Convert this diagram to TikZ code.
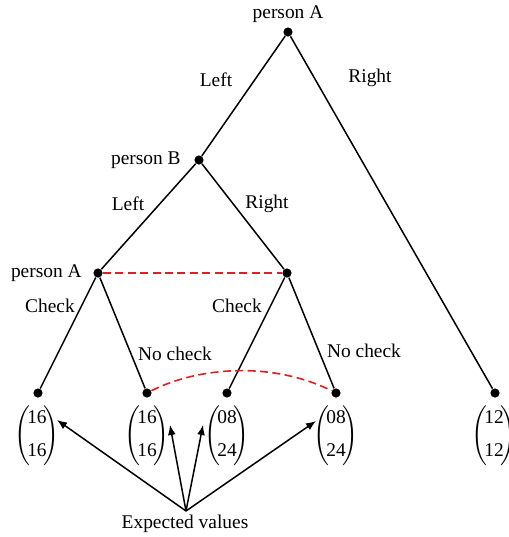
\documentclass[tikz,border=0pt]{standalone}
\usepackage{amsmath}
\usepackage{fontspec}
\setmainfont{Liberation Serif}
\usetikzlibrary{arrows.meta, positioning, calc}
\definecolor{infoset}{HTML}{E02020}
\newcommand{\payoff}[2]{$\Bigg(\!\begin{tabular}{@{}c@{}}#1\\[5.5pt]#2\end{tabular}\!\Bigg)$}

\begin{document}
\begin{tikzpicture}[x=0.5pt, y=-0.5pt,
    dot/.style={circle, fill=black, inner sep=0, minimum size=4.6pt},
    lbl/.style={font=\fontsize{9.7}{11}\selectfont, inner sep=1pt},
    vec/.style={font=\fontsize{9.7}{11}\selectfont, inner sep=0},
    edge/.style={line width=0.75pt},
    iset/.style={infoset, dash pattern=on 4pt off 2.2pt, line width=0.8pt},
    >={Latex[length=5pt, width=4pt]}]
\useasboundingbox (0,0) rectangle (509,537);
% decision nodes
\node[dot] (root) at (288,32) {};
\node[dot] (pb) at (199,160) {};
\node[dot] (al) at (98,273) {};
\node[dot] (ar) at (287,273) {};
% terminal nodes
\node[dot] (t1) at (38,393) {};
\node[dot] (t2) at (147,393) {};
\node[dot] (t3) at (227,393) {};
\node[dot] (t4) at (336,393) {};
\node[dot] (t5) at (495,393) {};
\draw[edge] (root) -- (pb);
\draw[edge] (root) -- (t5);
\draw[edge] (pb) -- (al);
\draw[edge] (pb) -- (ar);
\draw[edge] (al) -- (t1);
\draw[edge] (al) -- (t2);
\draw[edge] (ar) -- (t3);
\draw[edge] (ar) -- (t4);
% information sets
\draw[iset] (t2) .. controls (198,367) and (272,361) .. (t4);
\draw[iset] (al) -- (ar);
% player and move labels
\node[lbl] (lroot) at (288,14) {person A};
\node[lbl, left=5.5pt of pb] (lpb) {person B};
\node[lbl, left=4.5pt of al] (lal) {person A};
\node[lbl] (m1) at (216,80) {Left};
\node[lbl] (m2) at (370,78) {Right};
\node[lbl] (m3) at (128,204) {Left};
\node[lbl] (m4) at (267,204) {Right};
\node[lbl] (m5) at (50,306) {Check};
\node[lbl] (m6) at (237,306) {Check};
\node[lbl] (m7) at (175,354) {No check};
\node[lbl] (m8) at (364,351) {No check};
% payoffs
\node[vec] (v1) at (37,436) {\payoff{16}{16}};
\node[vec] (v2) at (147,436) {\payoff{16}{16}};
\node[vec] (v3) at (227,436) {\payoff{08}{24}};
\node[vec] (v4) at (336,436) {\payoff{08}{24}};
\node[vec] (v5) at (494,436) {\payoff{12}{12}};
\node[lbl] (ev) at (185,524) {Expected values};
\coordinate (src) at (186,511);
\coordinate (e1) at (57,420);
\coordinate (e2) at (170,425);
\coordinate (e3) at (203,425);
\coordinate (e4) at (316,421);
\draw[edge, ->] (src) -- (e1);
\draw[edge, ->] (src) -- (e2);
\draw[edge, ->] (src) -- (e3);
\draw[edge, ->] (src) -- (e4);
\end{tikzpicture}
\end{document}
